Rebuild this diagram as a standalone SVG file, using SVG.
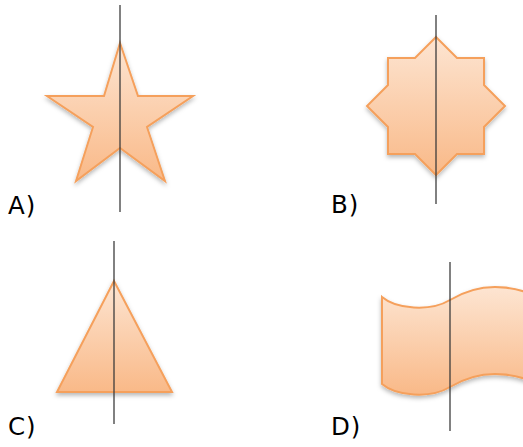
<svg xmlns="http://www.w3.org/2000/svg" width="523" height="447" viewBox="0 0 523 447">
<defs>
<linearGradient id="fillGrad" x1="0" y1="0" x2="0" y2="1">
<stop offset="0" stop-color="#fde5d2"/>
<stop offset="1" stop-color="#f9b988"/>
</linearGradient>
<filter id="shadow" x="-20%" y="-20%" width="140%" height="150%">
<feDropShadow dx="0" dy="2.5" stdDeviation="2" flood-color="#000" flood-opacity="0.28"/>
</filter>
</defs>
<style>
.shape{fill:url(#fillGrad);stroke:#f5a05c;stroke-width:2;stroke-linejoin:miter;filter:url(#shadow)}
.axis{stroke:#3a3a3a;stroke-width:1.5;opacity:0.85}
.lbl{font-family:"DejaVu Sans",Verdana,sans-serif;font-size:24.5px;fill:#000}
</style>
<g id="nodeA">
<polygon class="shape" points="120,43 138,96 193,96 147,127 165,181 120,148 76,181 93,127 47,96 104,96"/>
<text class="lbl" x="8" y="214" letter-spacing="1">A)</text>
</g>
<g id="nodeB">
<polygon class="shape" points="436,37 457,58 484,58 484,85 505,106 484,127 484,154 457,154 436,175 415,154 388,154 388,127 367,106 388,85 388,58 415,58"/>
<text class="lbl" x="331" y="213" letter-spacing="1">B)</text>
</g>
<g id="nodeC">
<polygon class="shape" points="114,281 172,392 57,392"/>
<text class="lbl" x="8" y="435" letter-spacing="1">C)</text>
</g>
<g id="nodeD">
<path class="shape" d="M382,297 C396,309 430,312 450,300 C465,291 480,287 495,287 C510,287 522,290 534,295 L534,382 C522,377 510,374 495,374 C480,374 465,378 450,387 C430,399 396,396 382,384 Z"/>
<text class="lbl" x="331" y="435" letter-spacing="1">D)</text>
</g>
<g id="connectors">
<line class="axis" x1="120" y1="5" x2="120" y2="212"/>
<line class="axis" x1="436" y1="15" x2="436" y2="204"/>
<line class="axis" x1="114" y1="241" x2="114" y2="424"/>
<line class="axis" x1="450" y1="262" x2="450" y2="431"/>
</g>
</svg>
